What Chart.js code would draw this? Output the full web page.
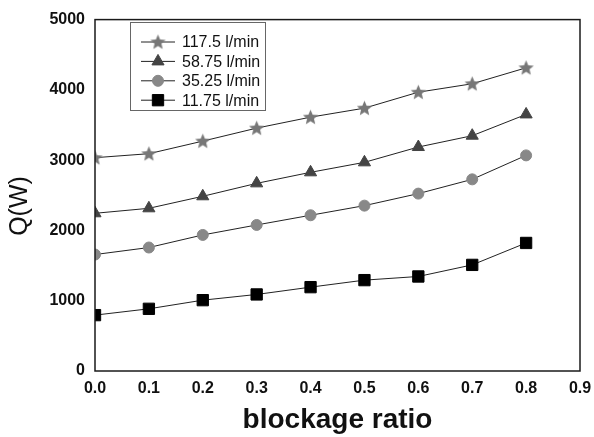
<!DOCTYPE html>
<html>
<head>
<meta charset="utf-8">
<script src="https://cdn.jsdelivr.net/npm/chart.js@4.4.0/dist/chart.umd.min.js"></script>
<style>
html, body { margin: 0; padding: 0; background: #fff; }
#wrap { width: 594px; height: 437px; }
</style>
</head>
<body>
<div id="wrap"><canvas id="chart" width="594" height="437"></canvas></div>
<script>
// Data
const ratios = [0.0, 0.1, 0.2, 0.3, 0.4, 0.5, 0.6, 0.7, 0.8];
const q117 = [3035, 3092, 3271, 3456, 3612, 3740, 3967, 4087, 4314];
const q58 = [2244, 2315, 2486, 2670, 2827, 2969, 3187, 3348, 3651];
const q35 = [1657, 1757, 1936, 2078, 2216, 2353, 2524, 2727, 3068];
const q11 = [795, 885, 1008, 1089, 1193, 1293, 1345, 1510, 1822];
const seriesLabels = ['117.5 l/min', '58.75 l/min', '35.25 l/min', '11.75 l/min'];
const yTitle = 'Q(W)';
const xTitle = 'blockage ratio';

const FONT = '"Liberation Sans", Arial, sans-serif';

// Filled five point star, Chart.js only has an outline star
function makeStar(color) {
    const c = document.createElement('canvas');
    c.width = 17; c.height = 17;
    const g = c.getContext('2d');
    g.fillStyle = color;
    g.beginPath();
    for (let i = 0; i < 10; i++) {
        const r = i % 2 === 0 ? 8 : 3.6;
        const a = -Math.PI / 2 + i * Math.PI / 5;
        const px = 8.5 + r * Math.cos(a), py = 9 + r * Math.sin(a);
        if (i === 0) g.moveTo(px, py); else g.lineTo(px, py);
    }
    g.closePath();
    g.fill();
    return c;
}
const starImg = makeStar('#777777');

function toPoints(arr) {
    return ratios.map((x, i) => ({ x: x, y: arr[i] }));
}

function series(label, values, style, radius, color) {
    return {
        label: label,
        data: toPoints(values),
        borderColor: '#222',
        borderWidth: 1,
        pointStyle: style,
        pointRadius: radius,
        pointHoverRadius: radius,
        pointBackgroundColor: color,
        pointBorderColor: color,
        pointBorderWidth: 1,
        tension: 0
    };
}

// Box around the plot, y title (sits a bit below centre) and the legend
const framePlugin = {
    id: 'frame',
    afterDraw(chart) {
        const ctx = chart.ctx;
        const a = chart.chartArea;
        ctx.save();
        ctx.strokeStyle = '#1a1a1a';
        ctx.lineWidth = 1.5;
        ctx.strokeRect(a.left, a.top, a.right - a.left, a.bottom - a.top);

        ctx.save();
        ctx.translate(20, 206);
        ctx.rotate(-Math.PI / 2);
        ctx.font = '25px ' + FONT;
        ctx.fillStyle = '#111';
        ctx.textAlign = 'center';
        ctx.textBaseline = 'middle';
        ctx.fillText(yTitle, 0, 0);
        ctx.restore();

        ctx.strokeStyle = '#666';
        ctx.lineWidth = 1;
        ctx.fillStyle = '#fff';
        ctx.fillRect(130, 22, 135, 88);
        ctx.strokeRect(130.5, 22.5, 135, 88);
        ctx.font = '16px ' + FONT;
        ctx.textBaseline = 'middle';
        chart.data.datasets.forEach((ds, i) => {
            const y = 42 + i * 19.4;
            ctx.strokeStyle = '#222';
            ctx.lineWidth = 1;
            ctx.beginPath();
            ctx.moveTo(141, y);
            ctx.lineTo(175, y);
            ctx.stroke();
            ctx.fillStyle = ds.pointBackgroundColor;
            ctx.strokeStyle = ds.pointBorderColor;
            Chart.helpers.drawPoint(ctx, {
                pointStyle: ds.pointStyle,
                radius: ds.pointRadius,
                borderWidth: 1,
                rotation: 0
            }, 158, y);
            ctx.fillStyle = '#111';
            ctx.fillText(ds.label, 182, y + 1);
        });
        ctx.restore();
    }
};

const ctx = document.getElementById('chart').getContext('2d');
new Chart(ctx, {
    type: 'line',
    data: {
        datasets: [
            series(seriesLabels[0], q117, starImg, 8, '#777777'),
            series(seriesLabels[1], q58, 'triangle', 7, '#444444'),
            series(seriesLabels[2], q35, 'circle', 5.5, '#888888'),
            series(seriesLabels[3], q11, 'rect', 8, '#000000')
        ]
    },
    options: {
        responsive: false,
        animation: false,
        layout: { padding: { left: 0, top: 19, right: 14, bottom: 0 } },
        plugins: {
            legend: { display: false },
            tooltip: { enabled: false }
        },
        scales: {
            x: {
                type: 'linear',
                min: 0,
                max: 0.9,
                grid: { display: false, drawTicks: false },
                border: { display: false },
                ticks: {
                    stepSize: 0.1,
                    padding: 8,
                    color: '#111',
                    font: { family: FONT, size: 16, weight: 'bold' },
                    callback: v => v.toFixed(1)
                },
                title: {
                    display: true,
                    text: xTitle,
                    color: '#111',
                    padding: { top: 10, bottom: 0 },
                    font: { family: FONT, size: 28, weight: 'bold' }
                },
                afterFit: s => {
                    s.height = 66;
                    s.paddingLeft = 0;
                    s.paddingRight = 0;
                }
            },
            y: {
                min: 0,
                max: 5000,
                grid: { display: false, drawTicks: false },
                border: { display: false },
                ticks: {
                    stepSize: 1000,
                    padding: 10,
                    color: '#111',
                    font: { family: FONT, size: 16, weight: 'bold' },
                    callback: v => String(v)
                },
                afterFit: s => { s.width = 95; }
            }
        }
    },
    plugins: [framePlugin]
});
</script>
</body>
</html>
